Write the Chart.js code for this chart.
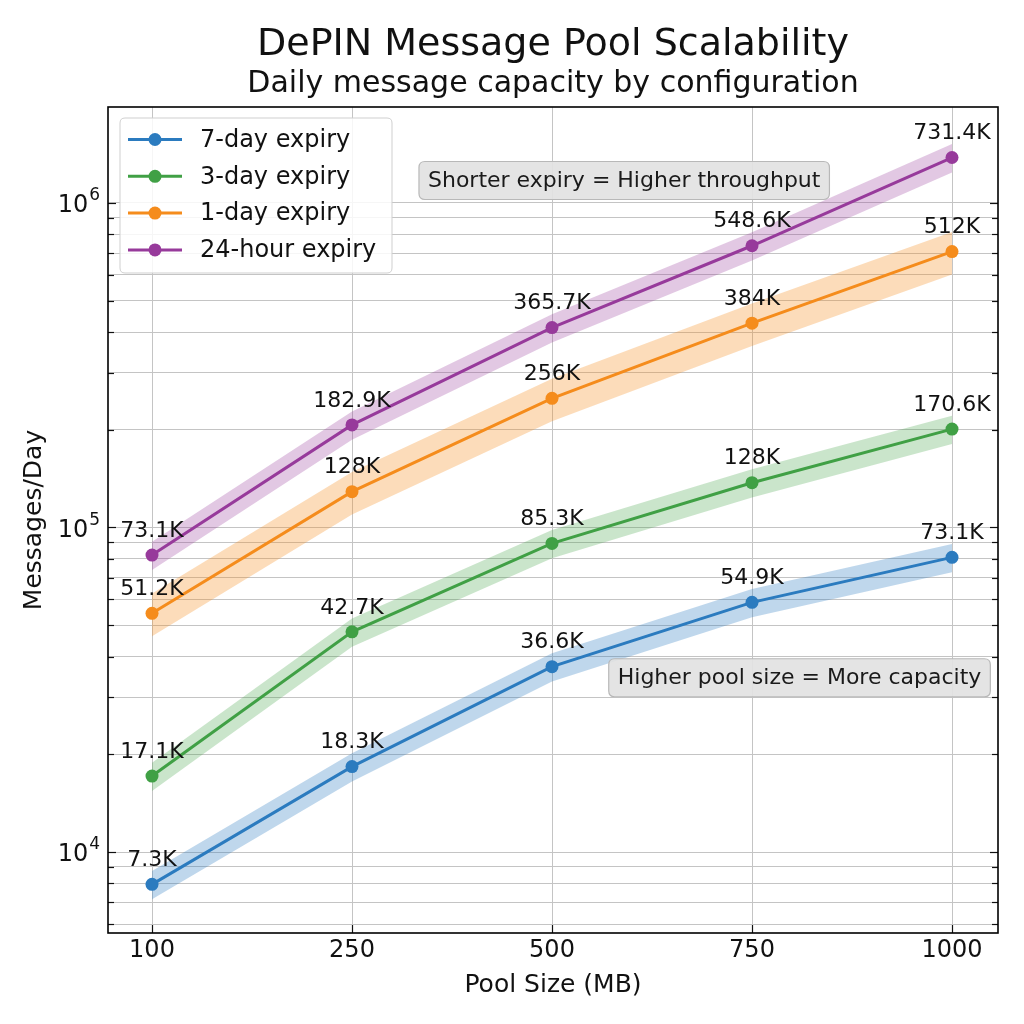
<!DOCTYPE html>
<html>
<head>
<meta charset="utf-8">
<script src="https://cdn.jsdelivr.net/npm/chart.js@4.4.1/dist/chart.umd.min.js"></script>
<style>
html,body{margin:0;padding:0;background:#ffffff;}
#wrap{width:1024px;height:1024px;}
</style>
</head>
<body>
<div id="wrap"><canvas id="c" width="1024" height="1024"></canvas></div>
<script>
// ---------- data ----------
const poolSizes = ['100', '250', '500', '750', '1000'];
const seriesNames = ['7-day expiry', '3-day expiry', '1-day expiry', '24-hour expiry'];
const sevenDay = [7950, 18330, 37250, 58800, 80900];
const threeDay = [17140, 47700, 89300, 137400, 201000];
const oneDay = [54400, 128900, 250000, 426000, 708000];
const twentyFourHour = [82200, 207000, 413000, 738000, 1380000];
const sevenDayLabels = ['7.3K', '18.3K', '36.6K', '54.9K', '73.1K'];
const threeDayLabels = ['17.1K', '42.7K', '85.3K', '128K', '170.6K'];
const oneDayLabels = ['51.2K', '128K', '256K', '384K', '512K'];
const twentyFourHourLabels = ['73.1K', '182.9K', '365.7K', '548.6K', '731.4K'];
const bandFraction = [0.10, 0.10, 0.15, 0.10];
const yTickValues = [6000, 7000, 8000, 9000, 10000, 20000, 30000, 40000, 50000, 60000, 70000, 80000, 90000,
  100000, 200000, 300000, 400000, 500000, 600000, 700000, 800000, 900000, 1000000];
const yMajorValues = [10000, 100000, 1000000];
const yMajorBase = '10';
const yMajorExponents = ['4', '5', '6'];
const titleText = 'DePIN Message Pool Scalability';
const subtitleText = 'Daily message capacity by configuration';
const annotationTexts = ['Shorter expiry = Higher throughput', 'Higher pool size = More capacity'];

// ---------- styles ----------
const FONT = 'DejaVu Sans';
const colors = ['#2b7bbf', '#40a045', '#f58c1c', '#973a9b'];
const bandColors = ['rgba(43,123,191,0.30)', 'rgba(64,160,69,0.28)', 'rgba(245,140,28,0.30)', 'rgba(151,58,155,0.28)'];

const seriesValues = [sevenDay, threeDay, oneDay, twentyFourHour];
const seriesLabels = [sevenDayLabels, threeDayLabels, oneDayLabels, twentyFourHourLabels];

const datasets = [];
seriesValues.forEach((vals, k) => {
  const f = bandFraction[k];
  datasets.push({
    label: seriesNames[k] + ' band upper',
    data: vals.map((v, i) => ({x: i, y: v * (1 + f)})),
    fill: '+1', backgroundColor: bandColors[k], borderWidth: 0, pointRadius: 0, order: 10
  });
  datasets.push({
    label: seriesNames[k] + ' band lower',
    data: vals.map((v, i) => ({x: i, y: v * (1 - f)})),
    fill: false, borderWidth: 0, pointRadius: 0, order: 10
  });
});
const lineStart = datasets.length;
seriesValues.forEach((vals, k) => {
  datasets.push({
    label: seriesNames[k],
    data: vals.map((v, i) => ({x: i, y: v})),
    borderColor: colors[k], backgroundColor: colors[k], pointBackgroundColor: colors[k],
    borderWidth: 3, pointRadius: 6.5, pointBorderWidth: 0, fill: false, tension: 0, order: 1
  });
});

function roundRect(ctx, x, y, w, h, r) {
  ctx.beginPath();
  ctx.moveTo(x + r, y);
  ctx.lineTo(x + w - r, y);
  ctx.quadraticCurveTo(x + w, y, x + w, y + r);
  ctx.lineTo(x + w, y + h - r);
  ctx.quadraticCurveTo(x + w, y + h, x + w - r, y + h);
  ctx.lineTo(x + r, y + h);
  ctx.quadraticCurveTo(x, y + h, x, y + h - r);
  ctx.lineTo(x, y + r);
  ctx.quadraticCurveTo(x, y, x + r, y);
  ctx.closePath();
}

const decor = {
  id: 'decor',
  afterDatasetsDraw(chart) {
    const ctx = chart.ctx;
    ctx.save();
    ctx.font = '22px "' + FONT + '"';
    ctx.fillStyle = '#111111';
    ctx.textAlign = 'center';
    ctx.textBaseline = 'middle';
    seriesLabels.forEach((labels, k) => {
      const meta = chart.getDatasetMeta(lineStart + k);
      meta.data.forEach((pt, i) => {
        ctx.fillText(labels[i], pt.x, pt.y - 24);
      });
    });
    ctx.restore();
  },
  afterDraw(chart) {
    const ctx = chart.ctx;
    const ca = chart.chartArea;
    const xs = chart.scales.x, ys = chart.scales.y;
    ctx.save();

    // titles, centred over the plot area
    const midX = (ca.left + ca.right) / 2;
    ctx.fillStyle = '#111111';
    ctx.textAlign = 'center';
    ctx.textBaseline = 'middle';
    ctx.font = '38px "' + FONT + '"';
    ctx.fillText(titleText, midX, 45);
    ctx.font = '30px "' + FONT + '"';
    ctx.fillText(subtitleText, midX, 84);

    // y major tick labels (10 with raised exponent)
    yMajorValues.forEach((v, j) => {
      const py = ys.getPixelForValue(v);
      ctx.font = '17px "' + FONT + '"';
      const ew = ctx.measureText(yMajorExponents[j]).width;
      const xr = ca.left - 9 - ew;
      ctx.textAlign = 'left';
      ctx.fillText(yMajorExponents[j], xr + 1, py - 7);
      ctx.font = '24px "' + FONT + '"';
      ctx.textAlign = 'right';
      ctx.fillText(yMajorBase, xr, py + 3);
    });

    // inward ticks
    ctx.strokeStyle = '#111111';
    ctx.lineWidth = 1.2;
    yTickValues.forEach(v => {
      const py = Math.round(ys.getPixelForValue(v)) + 0.5;
      const len = yMajorValues.includes(v) ? 8 : 6;
      ctx.beginPath(); ctx.moveTo(ca.left, py); ctx.lineTo(ca.left + len, py); ctx.stroke();
      ctx.beginPath(); ctx.moveTo(ca.right, py); ctx.lineTo(ca.right - len, py); ctx.stroke();
    });
    poolSizes.forEach((p, i) => {
      const px = Math.round(xs.getPixelForValue(i)) + 0.5;
      ctx.beginPath(); ctx.moveTo(px, ca.bottom); ctx.lineTo(px, ca.bottom - 8); ctx.stroke();
    });
    // frame
    ctx.lineWidth = 1.6;
    ctx.strokeStyle = '#000000';
    ctx.strokeRect(ca.left, ca.top, ca.right - ca.left, ca.bottom - ca.top);

    // legend
    const lx = ca.left + 12, ly = ca.top + 11, lw = 272, lh = 155;
    roundRect(ctx, lx, ly, lw, lh, 5);
    ctx.fillStyle = 'rgba(255,255,255,0.85)';
    ctx.fill();
    ctx.lineWidth = 1;
    ctx.strokeStyle = '#cfcfcf';
    ctx.stroke();
    ctx.font = '24px "' + FONT + '"';
    ctx.textAlign = 'left';
    ctx.textBaseline = 'middle';
    seriesNames.forEach((name, k) => {
      const cy = ly + 21.5 + k * 36.8;
      ctx.strokeStyle = colors[k];
      ctx.lineWidth = 3;
      ctx.beginPath(); ctx.moveTo(lx + 8, cy); ctx.lineTo(lx + 62, cy); ctx.stroke();
      ctx.fillStyle = colors[k];
      ctx.beginPath(); ctx.arc(lx + 35, cy, 6.5, 0, Math.PI * 2); ctx.fill();
      ctx.fillStyle = '#111111';
      ctx.fillText(name, lx + 80, cy + 1);
    });

    // annotations
    const annPos = [[0.58, 0.089], [0.777, 0.691]];
    ctx.font = '22px "' + FONT + '"';
    annotationTexts.forEach((t, j) => {
      const cx = ca.left + annPos[j][0] * (ca.right - ca.left);
      const cy = ca.top + annPos[j][1] * (ca.bottom - ca.top);
      const w = ctx.measureText(t).width + 18;
      const h = 38;
      roundRect(ctx, cx - w / 2, cy - h / 2, w, h, 6);
      ctx.fillStyle = 'rgba(226,226,226,0.92)';
      ctx.fill();
      ctx.strokeStyle = '#b8b8b8';
      ctx.lineWidth = 1.2;
      ctx.stroke();
      ctx.fillStyle = '#1a1a1a';
      ctx.textAlign = 'center';
      ctx.textBaseline = 'middle';
      ctx.fillText(t, cx, cy + 1);
    });
    ctx.restore();
  }
};

new Chart(document.getElementById('c'), {
  type: 'line',
  data: {datasets},
  plugins: [decor],
  options: {
    responsive: false,
    devicePixelRatio: 1,
    animation: false,
    events: [],
    layout: {padding: {left: 0, right: 26, top: 107, bottom: 0}},
    plugins: {
      legend: {display: false},
      tooltip: {enabled: false},
      filler: {drawTime: 'beforeDatasetsDraw'},
      title: {display: false},
      subtitle: {display: false}
    },
    scales: {
      x: {
        type: 'linear', min: -0.22, max: 4.23,
        afterBuildTicks: s => { s.ticks = poolSizes.map((p, i) => ({value: i})); },
        afterFit: s => { s.height = 91; },
        ticks: {
          callback: v => poolSizes[v], color: '#111111', autoSkip: false, maxRotation: 0,
          font: {family: FONT, size: 24}, padding: 3
        },
        grid: {color: '#c4c4c4', lineWidth: 1, drawTicks: false},
        border: {display: false},
        title: {
          display: true, text: 'Pool Size (MB)', color: '#111111',
          font: {family: FONT, size: 25}, padding: {top: 0, bottom: 24}
        }
      },
      y: {
        type: 'logarithmic', min: 5630, max: 1975000,
        afterBuildTicks: s => { s.ticks = yTickValues.map(v => ({value: v})); },
        afterFit: s => { s.width = 108; },
        ticks: {
          callback: () => '',
          color: '#111111', autoSkip: false, font: {family: FONT, size: 24}, padding: 10
        },
        grid: {color: '#c4c4c4', lineWidth: 1, drawTicks: false},
        border: {display: false},
        title: {
          display: true, text: 'Messages/Day', color: '#111111',
          font: {family: FONT, size: 25}, padding: {top: 19, bottom: 0}
        }
      }
    }
  }
});
</script>
</body>
</html>
